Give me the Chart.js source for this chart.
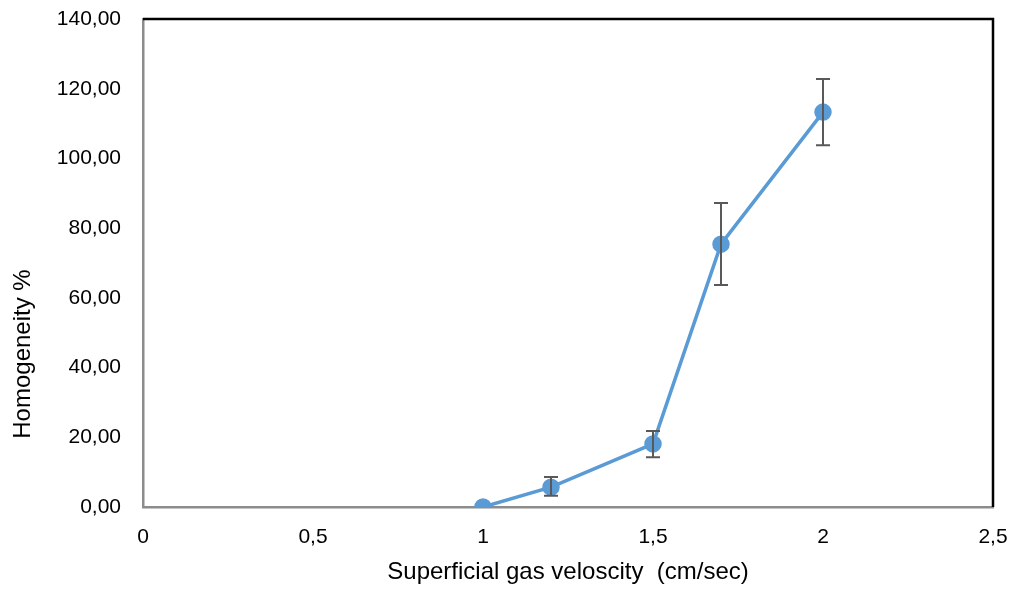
<!DOCTYPE html>
<html>
<head>
<meta charset="utf-8">
<script src="https://cdn.jsdelivr.net/npm/chart.js@4/dist/chart.umd.min.js"></script>
<style>
  html, body { margin: 0; padding: 0; background: #fff; }
  #wrap { width: 1013px; height: 591px; }
</style>
</head>
<body>
<div id="wrap"><canvas id="myChart"></canvas></div>
<script>
// values
var velocities = [1, 1.2, 1.5, 1.7, 2]
var homogeneity = [0, 5.7, 18.1, 75.4, 113.3]
var errLow = [0, 3.2, 14.3, 63.7, 103.8]
var errHigh = [0, 8.6, 21.8, 87.2, 122.8]
var yTitle = "Homogeneity %"
var xTitle = "Superficial gas veloscity  (cm/sec)"

var FONT = "'Liberation Sans', Arial, sans-serif"

function getPoints(){
    var pts = []
    for(var i = 0; i < velocities.length; i++){
        pts.push({x: velocities[i], y: homogeneity[i]})
    }
    return pts
}

// error bars, black top/right frame, y title (sits low like in excel)
var extras = {
    id: "extras",
    afterDatasetsDraw: function(chart){
        var c = chart.ctx
        var xs = chart.scales.x, ys = chart.scales.y
        c.save()
        c.strokeStyle = "#595959"
        c.lineWidth = 2
        for(var i = 0; i < velocities.length; i++){
            if(errHigh[i] == errLow[i]) continue
            var px = xs.getPixelForValue(velocities[i])
            var top = ys.getPixelForValue(errHigh[i])
            var bot = ys.getPixelForValue(errLow[i])
            c.beginPath()
            c.moveTo(px, top); c.lineTo(px, bot)
            c.moveTo(px - 7, top); c.lineTo(px + 7, top)
            c.moveTo(px - 7, bot); c.lineTo(px + 7, bot)
            c.stroke()
        }
        c.restore()
    },
    beforeDatasetsDraw: function(chart){
        var a = chart.chartArea, c = chart.ctx
        c.save()
        c.strokeStyle = "#000"
        c.lineWidth = 2.5
        c.beginPath()
        c.moveTo(a.left, a.top)
        c.lineTo(a.right, a.top)
        c.lineTo(a.right, a.bottom)
        c.stroke()

        c.translate(23, 354)
        c.rotate(-Math.PI / 2)
        c.fillStyle = "#000"
        c.font = "24px " + FONT
        c.textAlign = "center"
        c.textBaseline = "middle"
        c.fillText(yTitle, 0, 0)
        c.restore()
    }
}

var ctx = document.querySelector("#myChart").getContext("2d")
var myChart = new Chart(ctx, {
    type: "scatter",
    data: {
        datasets: [{
            data: getPoints(),
            showLine: true,
            borderColor: "#5B9BD5",
            backgroundColor: "#5B9BD5",
            borderWidth: 3.5,
            pointRadius: 7,
            pointHoverRadius: 7
        }]
    },
    options: {
        responsive: true,
        maintainAspectRatio: false,
        animation: false,
        layout: { padding: { top: 19, right: 20, left: 0, bottom: 0 } },
        plugins: { legend: { display: false }, tooltip: { enabled: false } },
        scales: {
            x: {
                type: "linear",
                min: 0, max: 2.5,
                grid: { display: false, drawTicks: false },
                border: { color: "#8c8c8c", width: 2.5 },
                ticks: {
                    stepSize: 0.5,
                    padding: 18,
                    color: "#000",
                    font: { family: FONT, size: 21 },
                    callback: function(v){ return String(v).replace(".", ",") }
                },
                title: {
                    display: true,
                    text: xTitle,
                    color: "#000",
                    font: { family: FONT, size: 24 },
                    padding: { top: 10 }
                },
                afterFit: function(s){
                    s.height = 84
                    s.paddingLeft = 0
                    s.paddingRight = 0
                }
            },
            y: {
                min: 0, max: 140,
                grid: { display: false, drawTicks: false },
                border: { color: "#8c8c8c", width: 2.5 },
                ticks: {
                    stepSize: 20,
                    padding: 22,
                    color: "#000",
                    font: { family: FONT, size: 21 },
                    callback: function(v){ return v.toFixed(2).replace(".", ",") }
                },
                afterFit: function(s){
                    s.width = 143
                    s.paddingTop = 0
                    s.paddingBottom = 0
                }
            }
        }
    },
    plugins: [extras]
})
</script>
</body>
</html>
